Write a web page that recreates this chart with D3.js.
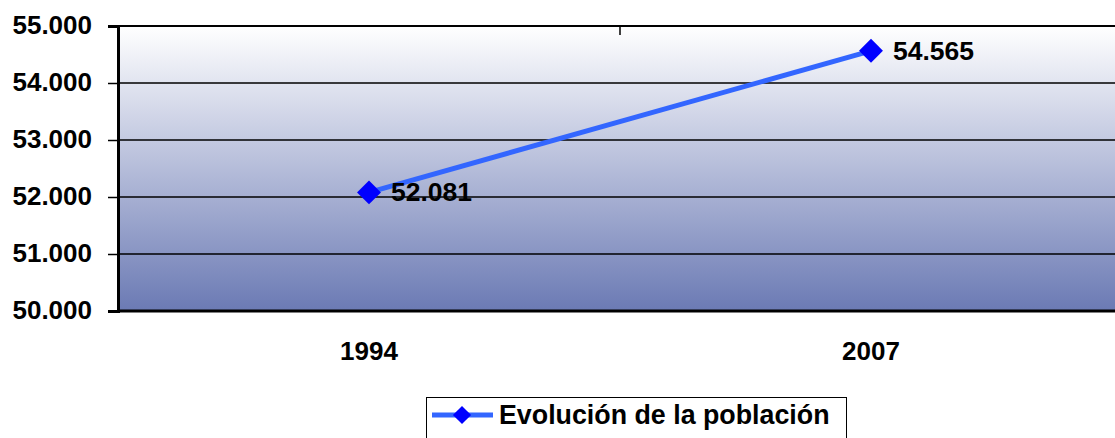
<!DOCTYPE html>
<html>
<head>
<meta charset="utf-8">
<script src="https://cdn.jsdelivr.net/npm/d3@7"></script>
<style>
  body { margin: 0; background: #fff; }
  svg text { font-family: "Liberation Sans", Arial, sans-serif; font-weight: bold; }
</style>
</head>
<body>
<svg id="chart" width="1115" height="438"></svg>
<script>
// data
const years = ["1994", "2007"]
const population = [52081, 54565]
const yTicks = [50000, 51000, 52000, 53000, 54000, 55000]
const seriesName = "Evolución de la población"

const svg = d3.select("#chart")
const plotL = 118, plotR = 1122, plotT = 26, plotB = 311

const x = d3.scaleBand().domain(years).range([plotL, plotR])
const y = d3.scaleLinear().domain([50000, 55000]).range([plotB, plotT])
const fmt = d => d3.format(",")(d).replace(/,/g, ".")

// gradient background
const grad = svg.append("defs").append("linearGradient")
    .attr("id", "bg").attr("x1", 0).attr("y1", 0).attr("x2", 0).attr("y2", 1)
grad.append("stop").attr("offset", "0%").attr("stop-color", "#ffffff")
grad.append("stop").attr("offset", "100%").attr("stop-color", "#6b7ab4")

svg.append("rect")
    .attr("x", plotL).attr("y", plotT)
    .attr("width", plotR - plotL).attr("height", plotB - plotT)
    .attr("fill", "url(#bg)")

// grid lines
svg.append("g").selectAll("line").data(yTicks.slice(1)).join("line")
    .attr("x1", plotL).attr("x2", plotR)
    .attr("y1", d => y(d)).attr("y2", d => y(d))
    .attr("stroke", "#000")
    .attr("stroke-width", d => d === 55000 ? 2 : 1.3)

// y axis
const yAxis = svg.append("g").attr("transform", `translate(${plotL},0)`)
    .call(d3.axisLeft(y).tickValues(yTicks).tickFormat(fmt).tickSize(10).tickPadding(16))
yAxis.select(".domain").attr("stroke", "#000").attr("stroke-width", 3)
yAxis.selectAll(".tick line").attr("stroke", "#000").attr("stroke-width", 1.5)
yAxis.selectAll("text").attr("font-size", 26).attr("fill", "#000").attr("dy", "0.28em")

// bottom axis line
svg.append("line")
    .attr("x1", plotL).attr("x2", plotR)
    .attr("y1", plotB).attr("y2", plotB)
    .attr("stroke", "#000").attr("stroke-width", 3)

// category boundary ticks at top
svg.append("g").selectAll("line").data(years.slice(1)).join("line")
    .attr("x1", d => x(d)).attr("x2", d => x(d))
    .attr("y1", plotT).attr("y2", plotT + 9)
    .attr("stroke", "#000").attr("stroke-width", 1.5)

// x labels
svg.append("g").selectAll("text").data(years).join("text")
    .attr("x", d => x(d) + x.bandwidth() / 2)
    .attr("y", 360)
    .attr("text-anchor", "middle")
    .attr("font-size", 26)
    .text(d => d)

// line
const pts = years.map((d, i) => [x(d) + x.bandwidth() / 2, y(population[i])])
svg.append("path")
    .attr("d", d3.line()(pts))
    .attr("fill", "none")
    .attr("stroke", "#3366ff")
    .attr("stroke-width", 5)

const diamond = d3.symbol().type(d3.symbolDiamond2).size(365)
svg.append("g").selectAll("path").data(pts).join("path")
    .attr("transform", d => `translate(${d[0]},${d[1]})`)
    .attr("d", diamond)
    .attr("fill", "#0000ff")

// value labels
svg.append("g").selectAll("text").data(pts).join("text")
    .attr("x", d => d[0] + 22)
    .attr("y", d => d[1] + 9)
    .attr("font-size", 26.5)
    .text((d, i) => fmt(population[i]))

// legend
const lg = svg.append("g")
lg.append("rect")
    .attr("x", 426.5).attr("y", 397.5)
    .attr("width", 420).attr("height", 50)
    .attr("fill", "#fff").attr("stroke", "#000").attr("stroke-width", 1)
lg.append("line")
    .attr("x1", 432).attr("x2", 493).attr("y1", 415).attr("y2", 415)
    .attr("stroke", "#3366ff").attr("stroke-width", 5)
lg.append("path")
    .attr("transform", "translate(462,415)")
    .attr("d", d3.symbol().type(d3.symbolDiamond2).size(210))
    .attr("fill", "#0000ff")
lg.append("text")
    .attr("x", 499).attr("y", 424)
    .attr("font-size", 26.8)
    .text(seriesName)
</script>
</body>
</html>
